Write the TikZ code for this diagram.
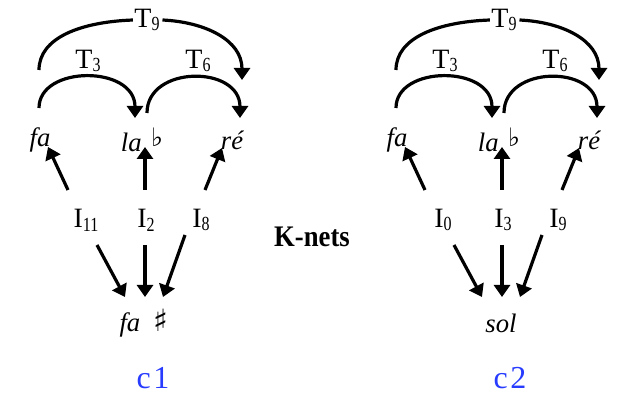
\documentclass[tikz,border=0pt]{standalone}
\usepackage{fontspec}
\setmainfont{Liberation Serif}
\newfontfamily\symfont{DejaVu Sans}
\usetikzlibrary{arrows.meta}
\definecolor{capblue}{RGB}{40,60,255}
\newcommand\lowidx[1]{\raisebox{-0.3ex}{\scalebox{0.8}[1]{\fontsize{15}{15}\selectfont #1}}}
\newcommand\flatsym{{\symfont\upshape\fontsize{19}{19}\selectfont ♭}}
\newcommand\sharpsym{{\symfont\upshape\fontsize{23}{23}\selectfont ♯}}
\tikzset{
  note/.style={inner sep=0pt, font=\fontsize{20}{20}\selectfont\itshape},
  lab/.style={inner sep=0pt, font=\fontsize{21}{21}\selectfont},
  caplab/.style={inner sep=0pt, text=capblue, font=\fontsize{24}{24}\selectfont},
  conn/.style={line width=2.4pt},
  arr/.style={line width=2.4pt, -{Triangle[width=12pt,length=9pt]}},
}
\newcommand\knet[7]{%
\begin{scope}[shift={(#2,0)}]
  \node[note] (#1fa) at (40,140) {fa};
  \node[note] (#1la) at (142,140) {la\hspace{0.35em}\raisebox{0.35ex}{\flatsym}};
  \node[note] (#1re) at (232,140) {ré};
  \node[lab] (#1t9) at (147,20) {T\lowidx{9}};
  \node[lab] (#1t3) at (88,61) {T\lowidx{3}};
  \node[lab] (#1t6) at (198,61) {T\lowidx{6}};
  \node[lab] (#1il) at (86,220) {I\lowidx{#3}};
  \node[lab] (#1im) at (146,220) {I\lowidx{#4}};
  \node[lab] (#1ir) at (201,220) {I\lowidx{#5}};
  \node[note] (#1bot) at (144,323) {#6};
  \node[caplab] (#1cap) at (153,378) {c\kern2pt #7};
  % T arcs
  \coordinate (#1a9) at (39,70);
  \coordinate (#1b9) at (242,80);
  \coordinate (#1a3) at (39,108);
  \coordinate (#1b3) at (135,118);
  \coordinate (#1a6) at (147,113);
  \coordinate (#1b6) at (240,118);
  \draw[conn] (#1a9) .. controls (39,38) and (80,22) .. ([xshift=-1pt]#1t9.west);
  \draw[arr] ([xshift=2pt]#1t9.east) .. controls (205,22) and (242,40) .. (#1b9);
  \draw[arr] (#1a3) .. controls (39,65) and (135,65) .. (#1b3);
  \draw[arr] (#1a6) .. controls (147,65) and (240,65) .. (#1b6);
  % up arrows
  \coordinate (#1u1) at (68,190);  \coordinate (#1v1) at (48,147);
  \coordinate (#1u2) at (145,190); \coordinate (#1v2) at (145,147);
  \coordinate (#1u3) at (205,190); \coordinate (#1v3) at (222,148);
  \draw[arr] (#1u1) -- (#1v1);
  \draw[arr] (#1u2) -- (#1v2);
  \draw[arr] (#1u3) -- (#1v3);
  % down arrows
  \coordinate (#1d1) at (97,245);  \coordinate (#1e1) at (125,297);
  \coordinate (#1d2) at (145,245); \coordinate (#1e2) at (145,297);
  \coordinate (#1d3) at (185,235); \coordinate (#1e3) at (163,297);
  \draw[arr] (#1d1) -- (#1e1);
  \draw[arr] (#1d2) -- (#1e2);
  \draw[arr] (#1d3) -- (#1e3);
\end{scope}}
\begin{document}
\begin{tikzpicture}[x=0.75pt,y=-0.75pt]
  \useasboundingbox (0,0) rectangle (619,398);
  \knet{l}{0}{11}{2}{8}{fa\hspace{0.5em}\sharpsym}{1}
  \knet{r}{357}{0}{3}{9}{sol}{2}
  \node[inner sep=0pt, font=\fontsize{20}{20}\selectfont\bfseries] (knets) at (312,237) {\scalebox{1}[1.12]{K-nets}};
\end{tikzpicture}
\end{document}
